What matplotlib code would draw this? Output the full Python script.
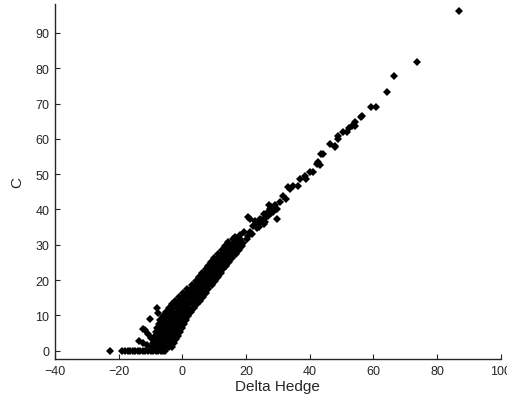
import matplotlib
matplotlib.use("Agg")
import matplotlib.pyplot as plt

# Points sitting on the C = 0 floor (far left tail)
floor_x = [-22.7, -18.8, -18.0, -17.2, -16.4, -15.6, -14.8, -14.0, -13.2, -12.4,
           -11.6, -10.8, -10.0, -9.2, -8.4, -7.6, -6.8, -6.0, -5.3]
floor_y = [0.0] * len(floor_x)

# Dense cloud, read row by row (C level -> Delta Hedge values on that row)
cloud_levels = [1.0, 2.1, 3.2, 4.3, 5.4, 6.5, 7.6, 8.7, 9.8, 10.9, 12.0, 13.1,
                14.2, 15.3, 16.4, 17.5, 18.6, 19.7, 20.8, 21.9, 23.0, 24.1,
                25.2, 26.3, 27.4, 28.5, 29.6]
cloud_rows = [
    [-9.6, -8.5, -7.4, -6.3, -5.2, -4.2, -3.2],
    [-9.3, -8.2, -7.1, -6.0, -4.9, -3.7, -2.5],
    [-9.0, -7.9, -6.8, -5.6, -4.3, -3.1, -1.9],
    [-8.7, -7.6, -6.4, -5.2, -4.0, -2.6, -1.3],
    [-8.3, -7.2, -6.0, -4.8, -3.5, -2.0, -0.6],
    [-7.9, -6.8, -5.6, -4.3, -3.0, -1.5, 0.0],
    [-7.4, -6.3, -5.1, -3.8, -2.4, -0.9, 0.6],
    [-7.0, -5.8, -4.6, -3.2, -1.8, -0.3, 1.1],
    [-6.0, -4.9, -3.7, -2.4, -1.0, 0.5, 1.9],
    [-5.2, -4.1, -2.8, -1.5, -0.1, 1.4, 2.8],
    [-4.3, -3.1, -1.8, -0.5, 0.8, 2.2, 3.6],
    [-3.2, -2.0, -0.8, 0.5, 1.8, 3.2, 4.5],
    [-2.2, -1.0, 0.3, 1.6, 2.9, 4.3, 5.6],
    [-1.0, 0.2, 1.4, 2.7, 4.0, 5.3, 6.6],
    [0.3, 1.5, 2.7, 3.9, 5.0, 6.2, 7.3],
    [1.6, 2.7, 3.9, 5.0, 6.0, 7.1, 8.1],
    [2.9, 4.0, 5.1, 6.1, 7.2, 8.2, 9.2],
    [4.2, 5.3, 6.3, 7.3, 8.3, 9.3, 10.3],
    [5.3, 6.4, 7.4, 8.4, 9.3, 10.3, 11.2],
    [6.3, 7.4, 8.4, 9.3, 10.2, 11.1, 12.0],
    [7.4, 8.5, 9.5, 10.4, 11.2, 12.0, 12.8],
    [8.2, 9.3, 10.3, 11.2, 12.1, 13.0, 13.8],
    [9.0, 10.1, 11.2, 12.3, 13.4, 14.6],
    [10.0, 11.1, 12.3, 13.5, 14.6, 15.7],
    [11.2, 12.4, 13.6, 14.8, 15.8, 16.8],
    [12.5, 13.6, 14.8, 15.9, 16.9, 17.8],
    [13.5, 14.9, 16.2, 17.4, 18.6],
]

# Scattered points left of the main cloud
left_x = [-7.9, -7.5, -10.2, -11.7, -12.3, -10.7, -13.5, -12.3, -11.0, -9.9]
left_y = [12.0, 10.8, 9.0, 5.9, 6.2, 4.7, 2.8, 2.3, 1.6, 3.6]

# Sparser band above the cloud
band_x = [14.5, 15.8, 17.2, 17.5, 16.0, 16.5, 18.1, 19.0, 20.2, 18.0, 19.5, 20.5,
          21.2, 20.7, 21.2, 22.0, 22.3, 22.8, 23.0, 23.5, 24.0, 24.4, 24.4, 25.0,
          25.5, 25.8, 26.0, 26.2, 26.5, 27.0, 27.2, 27.5, 27.8, 28.0, 28.5, 29.0,
          29.6, 29.6, 30.6, 31.7, 32.7, 33.2, 33.8, 34.8, 36.4, 36.9, 38.5, 39.0,
          40.0, 41.1, 42.2, 42.7, 43.2, 43.7, 44.2, 46.3, 47.9, 47.9, 48.9, 48.9,
          50.5, 51.6, 52.2, 53.2, 54.2, 54.2]
band_y = [30.7, 30.2, 30.9, 29.8, 31.6, 32.1, 31.6, 30.5, 31.5, 32.8, 33.6, 32.4,
          33.5, 37.8, 37.3, 33.0, 35.4, 36.6, 35.9, 34.8, 35.0, 36.4, 37.3, 37.0,
          36.0, 38.6, 36.4, 37.8, 39.0, 38.2, 41.3, 40.1, 38.9, 40.8, 39.2, 41.2,
          40.1, 37.3, 42.0, 43.9, 43.0, 46.3, 45.8, 46.7, 46.7, 48.7, 49.6, 48.6,
          50.5, 50.5, 52.9, 53.4, 52.5, 55.7, 55.7, 58.6, 57.6, 58.1, 60.0, 60.9,
          61.9, 61.9, 63.0, 63.7, 64.9, 63.7]

# Upper tail
tail_x = [56.0, 56.5, 59.3, 60.8, 64.4, 66.5, 73.8, 86.9]
tail_y = [66.1, 66.6, 69.1, 69.1, 73.4, 77.9, 81.9, 96.3]

x_ticks = [-40, -20, 0, 20, 40, 60, 80, 100]
y_ticks = [0, 10, 20, 30, 40, 50, 60, 70, 80, 90]

plt.rcParams["font.family"] = ["Liberation Sans", "DejaVu Sans"]
ink = "#262626"

cloud_x = [x for row in cloud_rows for x in row]
cloud_y = [lvl for lvl, row in zip(cloud_levels, cloud_rows) for _ in row]

fig = plt.figure(figsize=(5.07, 4.02), dpi=100)
ax = fig.add_axes([0.1085, 0.1045, 0.879, 0.883])

style = dict(linestyle="none", marker="D", markersize=4.0, color="black",
             markeredgewidth=0)
for xs, ys in [(floor_x, floor_y), (cloud_x, cloud_y), (left_x, left_y),
               (band_x, band_y), (tail_x, tail_y)]:
    ax.plot(xs, ys, **style)

ax.set_xlim(-40, 100)
ax.set_ylim(-2.35, 98.2)
ax.set_xticks(x_ticks)
ax.set_yticks(y_ticks)
ax.spines["top"].set_visible(False)
ax.spines["right"].set_visible(False)
for side in ("left", "bottom"):
    ax.spines[side].set_color(ink)
    ax.spines[side].set_linewidth(1.0)
ax.tick_params(direction="in", length=3.5, width=0.8, colors=ink,
               labelsize=9, pad=4)
ax.set_xlabel("Delta Hedge", fontsize=11, color=ink, labelpad=2)
ax.set_ylabel("C", fontsize=11, color=ink, labelpad=8)

fig.savefig("out.png", dpi=100, facecolor="white")
